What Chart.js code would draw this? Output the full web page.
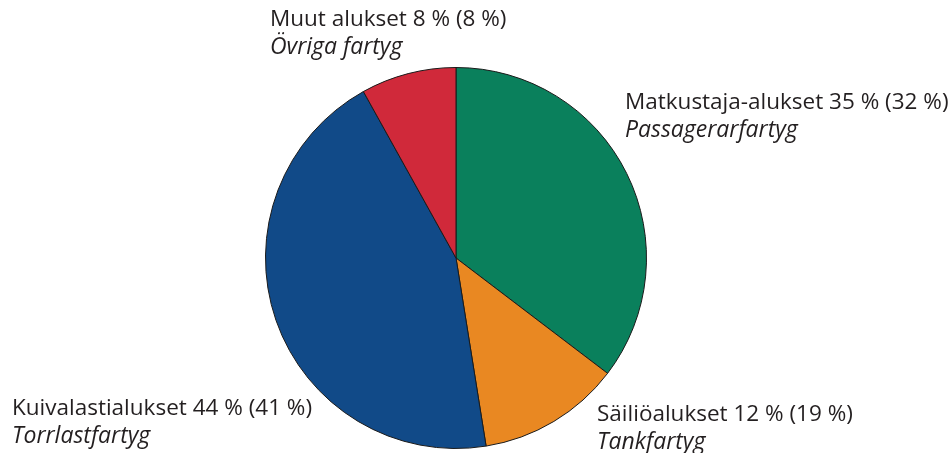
<!DOCTYPE html>
<html>
<head>
<meta charset="utf-8">
<script src="https://cdn.jsdelivr.net/npm/chart.js@4/dist/chart.umd.min.js"></script>
<style>
  html, body { margin: 0; padding: 0; background: #fff; }
  #wrap { width: 952px; height: 453px; position: relative; }
</style>
</head>
<body>
<div id="wrap"><canvas id="shipChart"></canvas></div>
<script>
// ship types, share this year and (previous year) in %
var categories = ['Matkustaja-alukset', 'Säiliöalukset', 'Kuivalastialukset', 'Muut alukset'];
var categoriesSv = ['Passagerarfartyg', 'Tankfartyg', 'Torrlastfartyg', 'Övriga fartyg'];
var shares = [35, 12, 44, 8];
var prevShares = [32, 19, 41, 8];
var colors = ['#0a805c', '#e98822', '#114a88', '#d0293a'];

// where each two-line label goes (left x, centre y of first line)
var labelPos = [
  { x: 625, y: 103 },
  { x: 597, y: 415 },
  { x: 12, y: 409 },
  { x: 270, y: 20 }
];

var labelsPlugin = {
  id: 'sliceLabels',
  afterDraw: function(chart) {
    var ctx = chart.ctx;
    ctx.save();
    ctx.fillStyle = '#231f20';
    ctx.textBaseline = 'middle';
    ctx.textAlign = 'left';
    for (var i = 0; i < categories.length; i++) {
      var p = labelPos[i];
      ctx.font = '22.5px "Open Sans"';
      ctx.fillText(categories[i] + ' ' + shares[i] + ' % (' + prevShares[i] + ' %)', p.x, p.y);
      ctx.font = 'italic 23px "Open Sans"';
      ctx.fillText(categoriesSv[i], p.x, p.y + 27);
    }
    ctx.restore();
  }
};

var ctx = document.getElementById('shipChart').getContext('2d');
var shipChart = new Chart(ctx, {
  type: 'pie',
  data: {
    labels: categories,
    datasets: [{
      data: shares,
      backgroundColor: colors,
      borderColor: '#1a1a1a',
      borderWidth: 1
    }]
  },
  options: {
    responsive: true,
    maintainAspectRatio: false,
    animation: false,
    layout: { padding: { top: 67, bottom: 4, left: 0, right: 40 } },
    plugins: {
      legend: { display: false },
      tooltip: { enabled: false }
    }
  },
  plugins: [labelsPlugin]
});
</script>
</body>
</html>
